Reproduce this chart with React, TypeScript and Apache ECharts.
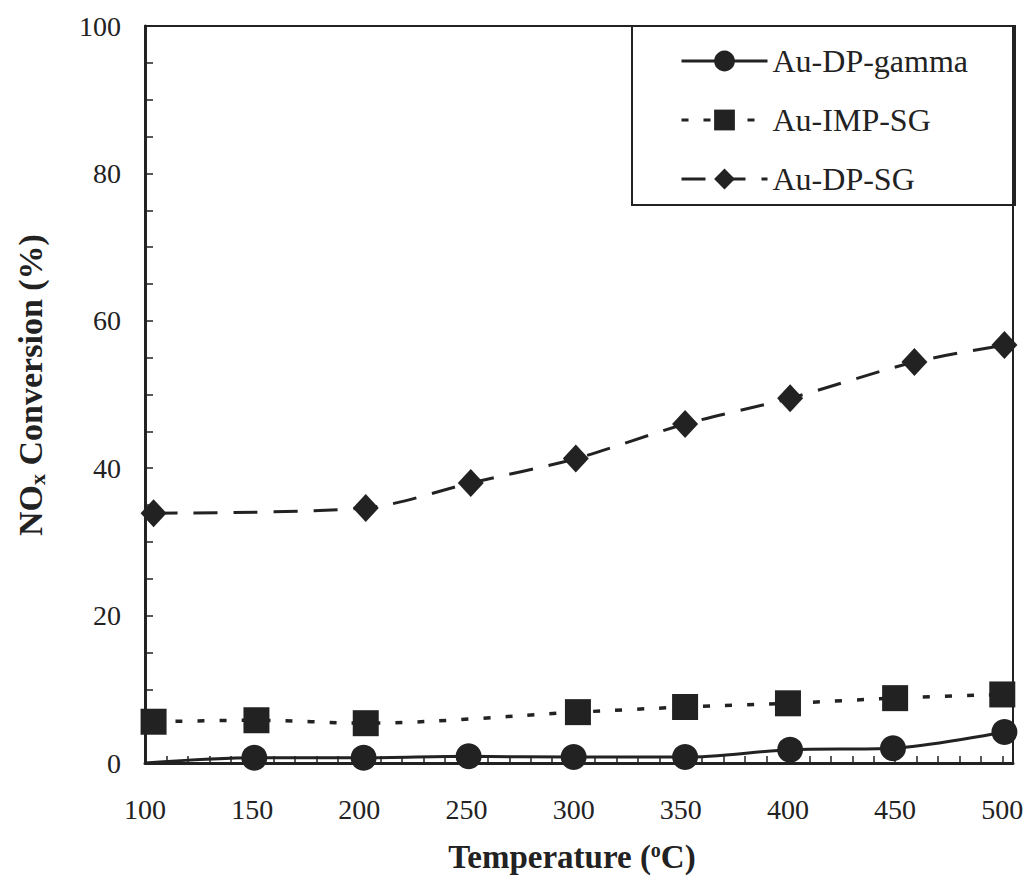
import React, { useEffect, useRef } from "react";
import * as echarts from "echarts";

const seriesNames = ["Au-DP-gamma", "Au-IMP-SG", "Au-DP-SG"];

const auDpGamma: [number, number][] = [
  [100, 0], [151, 0.7], [202, 0.7], [251, 0.9], [300, 0.8], [352, 0.8], [401, 1.8], [449, 2.0], [501, 4.2],
];
const auImpSg: [number, number][] = [
  [104, 5.6], [152, 5.8], [203, 5.4], [302, 6.9], [352, 7.6], [400, 8.1], [450, 8.8], [500, 9.3],
];
const auDpSg: [number, number][] = [
  [104, 33.9], [203, 34.6], [252, 38.0], [301, 41.3], [352, 46.0], [401, 49.5], [459, 54.4], [501, 56.7],
];

const xLabelValues = [100, 150, 200, 250, 300, 350, 400, 450, 500];
const xTickValues = [100, 110, 120, 130, 140, 150, 160, 170, 180, 190, 200, 210, 220, 230, 240, 250, 260, 270, 280, 290, 300, 310, 320, 330, 340, 350, 360, 370, 380, 390, 400, 410, 420, 430, 440, 450, 460, 470, 480, 490, 500];
const yLabelValues = [0, 20, 40, 60, 80, 100];
const yTickValues = [0, 5, 10, 15, 20, 25, 30, 35, 40, 45, 50, 55, 60, 65, 70, 75, 80, 85, 90, 95, 100];

const INK = "#222";
const FONT = "Liberation Serif";

export default function App() {
  const ref = useRef<HTMLDivElement>(null);
  useEffect(() => {
    if (!ref.current) return;
    const chart = echarts.init(ref.current, undefined, { renderer: "svg" });
    const option: any = {
      animation: false,
      backgroundColor: "#fff",
      textStyle: { fontFamily: FONT },
      grid: {
        left: 145, right: 15, top: 26, bottom: 131,
        show: true, borderColor: INK, borderWidth: 2, backgroundColor: "transparent",
      },
      xAxis: {
        type: "value", min: 100, max: 505, interval: 50,
        axisLine: { show: true, onZero: false, lineStyle: { color: INK, width: 3 } },
        axisTick: { show: true, inside: true, length: 7, customValues: xTickValues, lineStyle: { color: INK, width: 1.5 } },
        axisLabel: { customValues: xLabelValues, margin: 32, fontSize: 28, fontFamily: FONT, color: INK },
        splitLine: { show: false },
      },
      yAxis: {
        type: "value", min: 0, max: 100, interval: 20,
        axisLine: { show: true, lineStyle: { color: INK, width: 3 } },
        axisTick: { show: true, inside: true, length: 8, customValues: yTickValues, lineStyle: { color: INK, width: 1.5 } },
        axisLabel: { customValues: yLabelValues, margin: 24, fontSize: 28, fontFamily: FONT, color: INK },
        splitLine: { show: false },
      },
      legend: {
        orient: "vertical", left: 675, top: 40, itemWidth: 86, itemHeight: 26, itemGap: 27,
        textStyle: { fontSize: 32, fontFamily: FONT, color: INK },
        lineStyle: { width: 3 },
        data: seriesNames,
      },
      graphic: [
        {
          type: "rect", shape: { x: 632, y: 26, width: 383, height: 179 },
          style: { fill: "transparent", stroke: INK, lineWidth: 2 }, z: 10,
        },
        {
          type: "text", x: 30, y: 385, rotation: Math.PI / 2,
          style: {
            text: "NO{sub|x} Conversion (%)",
            fontSize: 34, fontWeight: "bold", fontFamily: FONT, fill: INK,
            align: "center", verticalAlign: "middle",
            rich: { sub: { fontSize: 22, fontWeight: "bold", fontFamily: FONT, fill: INK, padding: [14, 0, 0, 0] } },
          },
        },
        {
          type: "text", x: 572, y: 857,
          style: {
            text: "Temperature ({sup|o}C)",
            fontSize: 33, fontWeight: "bold", fontFamily: FONT, fill: INK,
            align: "center", verticalAlign: "middle",
            rich: { sup: { fontSize: 20, fontWeight: "bold", fontFamily: FONT, fill: INK, padding: [0, 0, 14, 0] } },
          },
        },
      ],
      series: [
        {
          name: seriesNames[0], type: "line", smooth: 0.3, data: auDpGamma.map((d, i) => i === 0 ? { value: d, symbol: "none" } : d),
          symbol: "circle", symbolSize: 26,
          lineStyle: { color: INK, width: 3, type: "solid" },
          itemStyle: { color: INK },
        },
        {
          name: seriesNames[1], type: "line", smooth: 0.3, data: auImpSg,
          symbol: "rect", symbolSize: 26,
          lineStyle: { color: INK, width: 3.5, type: [7, 15] },
          itemStyle: { color: INK },
        },
        {
          name: seriesNames[2], type: "line", smooth: 0.3, data: auDpSg,
          symbol: "diamond", symbolSize: [26, 28],
          lineStyle: { color: INK, width: 3, type: [24, 16] },
          itemStyle: { color: INK },
        },
      ],
    };
    chart.setOption(option);
    return () => chart.dispose();
  }, []);
  return <div ref={ref} style={{ position: "absolute", left: 0, top: 0, width: 1028, height: 894 }} />;
}
